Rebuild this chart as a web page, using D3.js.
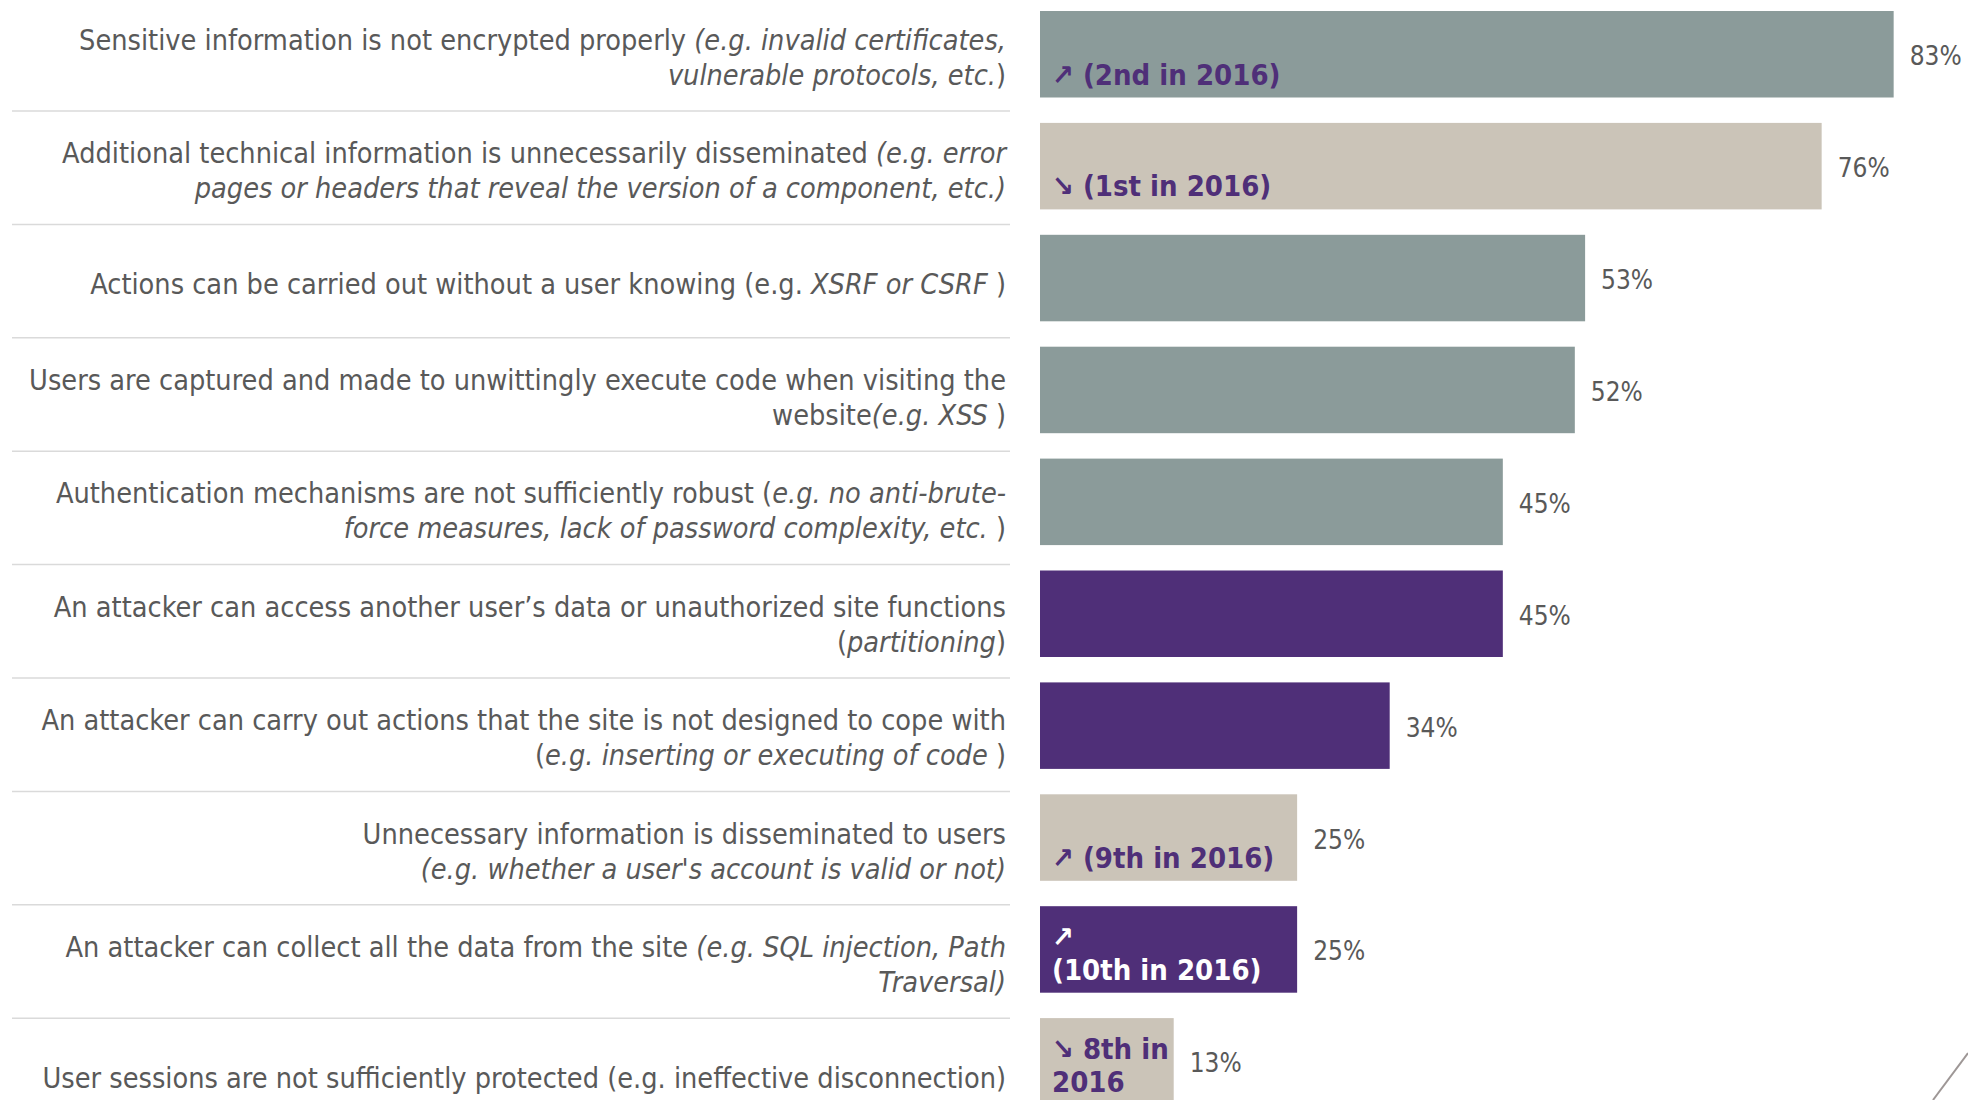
<!DOCTYPE html>
<html>
<head>
  <meta charset="utf-8">
  <title>Vulnerabilities</title>
  <script src="https://d3js.org/d3.v7.min.js"></script>
  <style>
    body { margin: 0; background: #fff; }
    text { font-family: "DejaVu Sans Condensed", "DejaVu Sans", sans-serif; white-space: pre; }
    .cat { font-size: 28.6px; fill: #595959; }
    .val { font-size: 26px; fill: #595959; }
    .note { font-size: 29px; font-weight: bold; }
    .sep { stroke: #dadada; stroke-width: 1.5; }
  </style>
</head>
<body>
  <svg id="chart"></svg>
  <script>
    // row labels, *...* marks the italic parts
    var labels = [
      ["Sensitive information is not encrypted properly *(e.g. invalid certificates,*", "*vulnerable protocols, etc.*)"],
      ["Additional technical information is unnecessarily disseminated *(e.g. error*", "*pages or headers that reveal the version of a component, etc.)*"],
      ["Actions can be carried out without a user knowing (e.g. *XSRF or CSRF* )"],
      ["Users are captured and made to unwittingly execute code when visiting the", "website*(e.g. XSS* )"],
      ["Authentication mechanisms are not sufficiently robust (*e.g. no anti-brute-*", "*force measures, lack of password complexity, etc.* )"],
      ["An attacker can access another user\u2019s data or unauthorized site functions", "(*partitioning*)"],
      ["An attacker can carry out actions that the site is not designed to cope with", "(*e.g. inserting or executing of code* )"],
      ["Unnecessary information is disseminated to users", "*(e.g. whether a user's account is valid or not)*"],
      ["An attacker can collect all the data from the site *(e.g. SQL injection, Path*", "*Traversal)*"],
      ["User sessions are not sufficiently protected (e.g. ineffective disconnection)"]
    ];
    var values = [83, 76, 53, 52, 45, 45, 34, 25, 25, 13];
    var groups = ["grey", "beige", "grey", "grey", "grey", "purple", "purple", "beige", "purple", "beige"];
    var notes = [
      ["\u2197 (2nd in 2016)"], ["\u2198 (1st in 2016)"], [], [], [], [], [],
      ["\u2197 (9th in 2016)"], ["\u2197", "(10th in 2016)"], ["\u2198 8th in", "2016"]
    ];

    var colors = {grey: "#8b9b9a", beige: "#cbc4b8", purple: "#4f2f78"};
    var noteColors = {grey: "#4f2f78", beige: "#4f2f78", purple: "#ffffff"};

    var width = 1968, height = 1100;
    var idx = d3.range(values.length);

    var svg = d3.select("#chart")
                .attr("width", width)
                .attr("height", height);

    var x = d3.scaleLinear().domain([0, 100]).range([1040, 2068.5]);

    // bars
    var y = d3.scaleBand().domain(idx).range([-1.7, 1117.3])
              .paddingInner(0.227).paddingOuter(0.1135);

    // label rows (slightly different pitch than the bars)
    var row = d3.scaleBand().domain(idx).range([-2.4, 1131.6]);

    // separators
    svg.selectAll(".sep")
       .data(idx.slice(0, -1))
       .enter()
       .append("line")
       .attr("class", "sep")
       .attr("x1", 12)
       .attr("x2", 1010)
       .attr("y1", d => row(d) + row.bandwidth())
       .attr("y2", d => row(d) + row.bandwidth());

    // category labels
    var lineH = 35;
    var cat = svg.selectAll(".cat")
                 .data(idx)
                 .enter()
                 .append("text")
                 .attr("class", "cat")
                 .attr("text-anchor", "end");

    cat.each(function(i) {
      var t = d3.select(this);
      var lines = labels[i];
      var mid = row(i) + row.bandwidth() / 2 + 3;
      lines.forEach(function(line, j) {
        var base = mid + (j - (lines.length - 1) / 2) * lineH + 10;
        var parts = line.split(/(\*[^*]*\*)/).filter(s => s.length);
        parts.forEach(function(p, k) {
          var it = p[0] === "*";
          var ts = t.append("tspan")
                    .style("font-style", it ? "italic" : "normal")
                    .text(it ? p.slice(1, -1) : p);
          if (k === 0) ts.attr("x", 1006).attr("y", base);
        });
      });
    });

    // bars
    svg.selectAll(".bar")
       .data(idx)
       .enter()
       .append("rect")
       .attr("class", "bar")
       .attr("x", x(0))
       .attr("y", d => y(d))
       .attr("width", d => x(values[d]) - x(0))
       .attr("height", y.bandwidth())
       .style("fill", d => colors[groups[d]]);

    // value labels
    svg.selectAll(".val")
       .data(idx)
       .enter()
       .append("text")
       .attr("class", "val")
       .attr("x", d => x(values[d]) + 16)
       .attr("y", d => y(d) + y.bandwidth() / 2 + 2)
       .attr("dominant-baseline", "central")
       .text(d => values[d] + "%");

    // 2016 rank notes inside bars
    var noteH = 33;
    svg.selectAll(".note")
       .data(idx.filter(d => notes[d].length))
       .enter()
       .append("text")
       .attr("class", "note")
       .style("fill", d => noteColors[groups[d]])
       .each(function(d) {
         var t = d3.select(this);
         var n = notes[d].length;
         notes[d].forEach(function(s, j) {
           t.append("tspan")
            .attr("x", x(0) + 12)
            .attr("y", y(d) + y.bandwidth() * 0.85 - (n - 1 - j) * noteH)
            .text(s);
         });
       });

    // corner decoration
    svg.append("line")
       .attr("x1", 1933).attr("y1", 1100)
       .attr("x2", 1968).attr("y2", 1053)
       .attr("stroke", "#9e9796")
       .attr("stroke-width", 2);
  </script>
</body>
</html>
